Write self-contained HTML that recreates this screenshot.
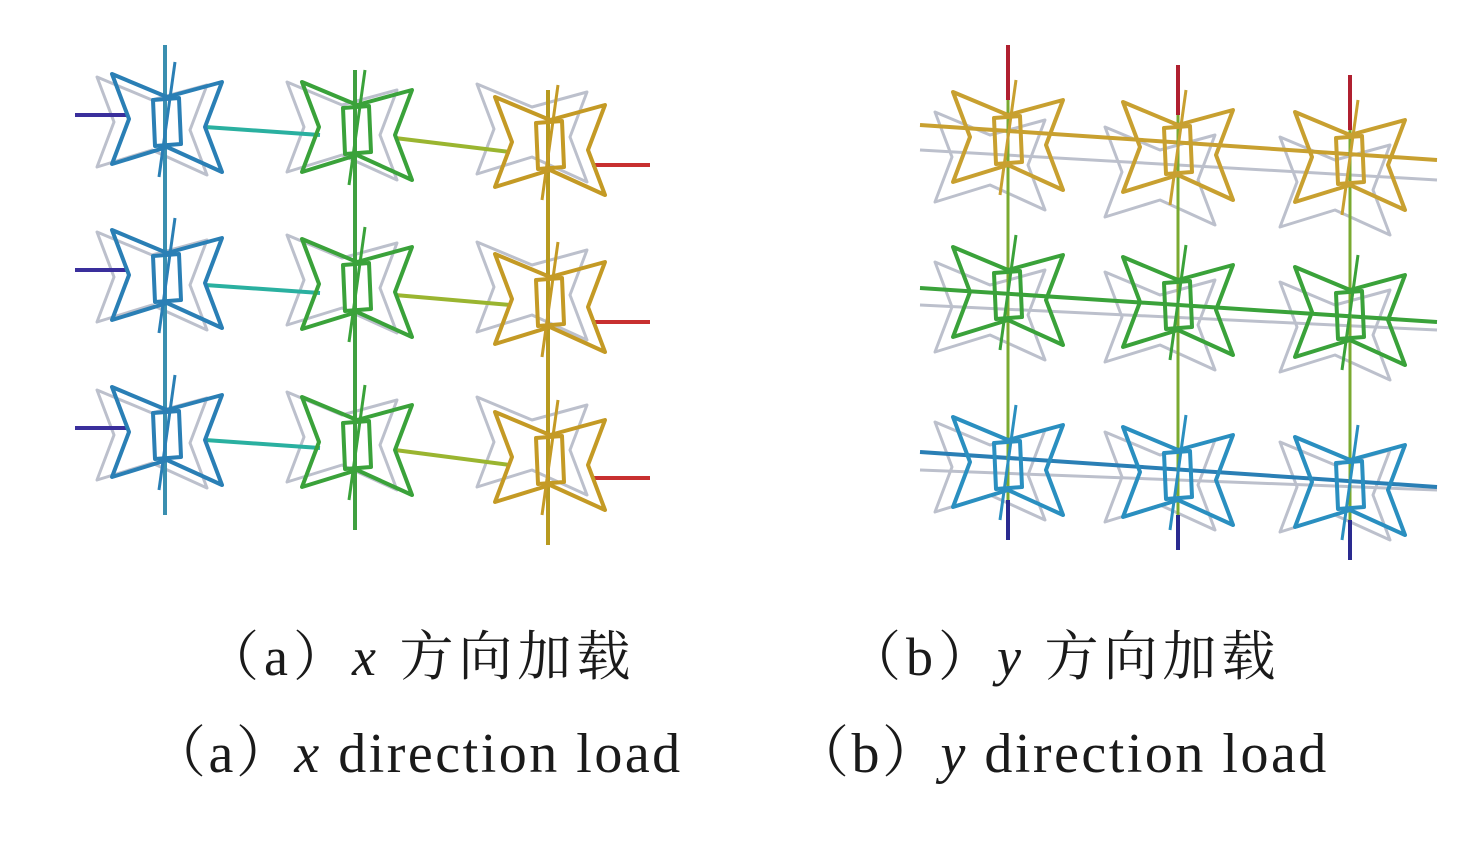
<!DOCTYPE html>
<html><head><meta charset="utf-8"><style>
body{margin:0;background:#fff;width:1482px;height:841px;overflow:hidden;position:relative}
.t{position:absolute;font-family:"Liberation Serif","Noto Serif CJK SC",serif;color:#1a1a1a;white-space:nowrap;line-height:1}
i{font-style:italic}
</style></head><body>
<svg width="1482" height="841" style="position:absolute;left:0;top:0" fill="none" stroke-linejoin="round" stroke-width="4">
<defs>
<g id="s"><path d="M-55,-48 L0,-25 L55,-40 L38,5 L55,50 L0,25 L-55,42 L-38,-3 Z"/><path d="M-14,-22 L12,-24 L14,22 L-12,24 Z"/><path d="M8,-60 L-8,55" stroke-width="3"/></g>
<g id="g"><path d="M-55,-48 L0,-25 L55,-40 L38,5 L55,50 L0,25 L-55,42 L-38,-3 Z"/></g>
</defs>
<g stroke="#bcc0cc" stroke-width="3">
<use href="#g" x="152" y="125"/><use href="#g" x="342" y="283"/><use href="#g" x="342" y="130"/><use href="#g" x="152" y="280"/><use href="#g" x="152" y="438"/><use href="#g" x="342" y="440"/><use href="#g" x="532" y="132"/><use href="#g" x="532" y="290"/><use href="#g" x="532" y="445"/>
</g>
<g stroke-width="4">
<path d="M165,45 V515" stroke="#3a8fb0"/><path d="M355,70 V530" stroke="#3fa040"/><path d="M548,90 V545" stroke="#b89a20"/>
<path d="M75,115 H128 M75,270 H128 M75,428 H128" stroke="#3a2f9c"/>
<path d="M205,127 L320,135 M205,285 L320,293 M205,440 L320,448" stroke="#2ab0a0"/>
<path d="M395,138 L510,152 M395,295 L510,305 M395,450 L510,465" stroke="#9ab530"/>
<path d="M592,165 H650 M592,322 H650 M592,478 H650" stroke="#c83030"/>
</g>
<g stroke="#2a7fb5"><use href="#s" x="167" y="122"/><use href="#s" x="167" y="278"/><use href="#s" x="167" y="435"/></g>
<g stroke="#3aa23a"><use href="#s" x="357" y="130"/><use href="#s" x="357" y="287"/><use href="#s" x="357" y="445"/></g>
<g stroke="#c49a25"><use href="#s" x="550" y="145"/><use href="#s" x="550" y="302"/><use href="#s" x="550" y="460"/></g>
<g stroke="#bcc0cc" stroke-width="3">
<path d="M920,150 L1437,180 M920,305 L1437,330 M920,470 L1437,490"/>
<use href="#g" x="990" y="160"/><use href="#g" x="1160" y="175"/><use href="#g" x="1335" y="185"/>
<use href="#g" x="990" y="310"/><use href="#g" x="1160" y="320"/><use href="#g" x="1335" y="330"/>
<use href="#g" x="990" y="470"/><use href="#g" x="1160" y="480"/><use href="#g" x="1335" y="490"/>
</g>
<g stroke-width="4">
<path d="M920,125 L1437,160" stroke="#c8a030"/><path d="M920,288 L1437,322" stroke="#3aa23a"/><path d="M920,452 L1437,487" stroke="#2a7fb5"/>
<path d="M1008,45 V100 M1178,65 V115 M1350,75 V130" stroke="#b02030"/>
<path d="M1008,500 V540 M1178,515 V550 M1350,520 V560" stroke="#2a2a90"/>
<path d="M1008,100 V500 M1178,115 V515 M1350,130 V520" stroke="#7aaa30" stroke-width="3"/>
</g>
<g stroke="#c8a030"><use href="#s" x="1008" y="140"/><use href="#s" x="1178" y="150"/><use href="#s" x="1350" y="160"/></g>
<g stroke="#3aa23a"><use href="#s" x="1008" y="295"/><use href="#s" x="1178" y="305"/><use href="#s" x="1350" y="315"/></g>
<g stroke="#2a8fc0"><use href="#s" x="1008" y="465"/><use href="#s" x="1178" y="475"/><use href="#s" x="1350" y="485"/></g>
</svg>
<div class="t" style="left:205px;top:630px;font-size:54px;letter-spacing:5px">（a）<i>x</i> 方向加载</div>
<div class="t" style="left:847px;top:630px;font-size:54px;letter-spacing:5px">（b）<i>y</i> 方向加载</div>
<div class="t" style="left:150px;top:726px;font-size:56px;letter-spacing:2.5px">（a）<i>x</i> direction load</div>
<div class="t" style="left:793px;top:726px;font-size:56px;letter-spacing:2.5px">（b）<i>y</i> direction load</div>
</body></html>
